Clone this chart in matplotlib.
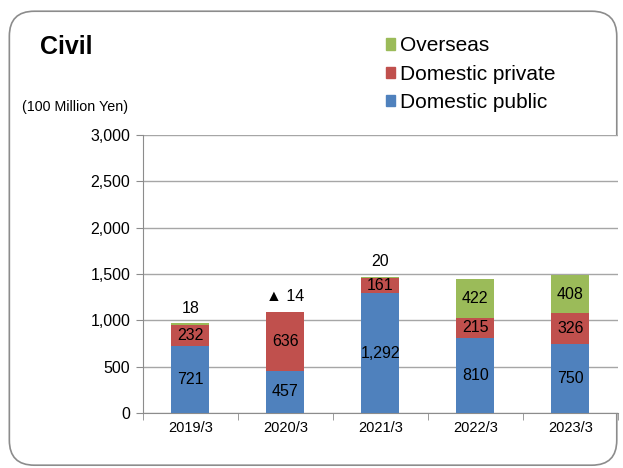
import numpy as np
import matplotlib.pyplot as plt
from matplotlib.patches import FancyBboxPatch, Patch

plt.rcParams['font.family'] = ['Liberation Sans', 'DejaVu Sans']

years = ['2019/3', '2020/3', '2021/3', '2022/3', '2023/3']
domestic_public = [721, 457, 1292, 810, 750]
domestic_private = [232, 636, 161, 215, 326]
overseas = [18, -14, 20, 422, 408]

c_public = '#4F81BD'
c_private = '#C0504D'
c_overseas = '#9BBB59'

fig = plt.figure(figsize=(6.23, 4.68), dpi=100)

# rounded frame around the whole chart
frame = FancyBboxPatch((0.015, 0.006), 0.975, 0.97, boxstyle='round,pad=0,rounding_size=0.04',
                       transform=fig.transFigure, facecolor='none', edgecolor='#8c8c8c',
                       linewidth=1.2, mutation_aspect=623 / 468, zorder=-1)
fig.patches.append(frame)

ax = fig.add_axes([0.2295, 0.1175, 0.762, 0.594])
x = np.arange(len(years))
w = 0.4

pub = np.array(domestic_public)
pri = np.array(domestic_private)
ovs = np.array(overseas)

ax.bar(x, pub, w, color=c_public, zorder=3)
ax.bar(x, pri, w, bottom=pub, color=c_private, zorder=3)
ovs_bottom = np.where(ovs > 0, pub + pri, 0)
ax.bar(x, ovs, w, bottom=ovs_bottom, color=c_overseas, zorder=3)

# value labels
for i in range(len(years)):
    ax.text(x[i], pub[i] / 2, f'{pub[i]:,}', ha='center', va='center', fontsize=11.5, zorder=4)
    ax.text(x[i], pub[i] + pri[i] / 2, f'{pri[i]:,}', ha='center', va='center', fontsize=11.5, zorder=4)
    if abs(ovs[i]) >= 100:
        ax.text(x[i], pub[i] + pri[i] + ovs[i] / 2, f'{ovs[i]:,}', ha='center', va='center',
                fontsize=11.5, zorder=4)
    else:
        top = pub[i] + pri[i] + max(ovs[i], 0)
        lbl = f'{ovs[i]}' if ovs[i] >= 0 else f'▲ {abs(ovs[i])}'
        ax.text(x[i], top + 160, lbl, ha='center', va='center', fontsize=11.5, zorder=4)

ax.set_ylim(0, 3000)
ax.set_xlim(-0.5, len(years) - 0.5)
ax.set_yticks(np.arange(0, 3001, 500))
ax.set_yticklabels([f'{v:,}' for v in range(0, 3001, 500)], fontsize=11.5)
ax.set_xticks(x)
ax.set_xticklabels(years, fontsize=10.5)
ax.set_xticks(np.arange(-0.5, len(years)), minor=True)
ax.tick_params(axis='x', which='major', length=0, pad=6)
ax.tick_params(axis='x', which='minor', length=5, color='#8c8c8c')
ax.tick_params(axis='y', length=5, color='#8c8c8c', pad=4)
ax.grid(axis='y', color='#a6a6a6', linewidth=1, zorder=0)
for s in ['top', 'right']:
    ax.spines[s].set_visible(False)
ax.spines['left'].set_color('#8c8c8c')
ax.spines['bottom'].set_color('#8c8c8c')

fig.text(0.064, 0.9, 'Civil', fontsize=18, fontweight='bold', va='center')
fig.text(0.035, 0.771, '(100 Million Yen)', fontsize=10.3, va='center')

handles = [Patch(color=c_overseas), Patch(color=c_private), Patch(color=c_public)]
labels = ['Overseas', 'Domestic private', 'Domestic public']
fig.legend(handles, labels, loc='upper left', bbox_to_anchor=(0.606, 0.94),
           frameon=False, fontsize=15, handlelength=0.45, handleheight=0.45,
           handletextpad=0.25, labelspacing=0.45, borderaxespad=0)

fig.savefig('out.png', dpi=100)
